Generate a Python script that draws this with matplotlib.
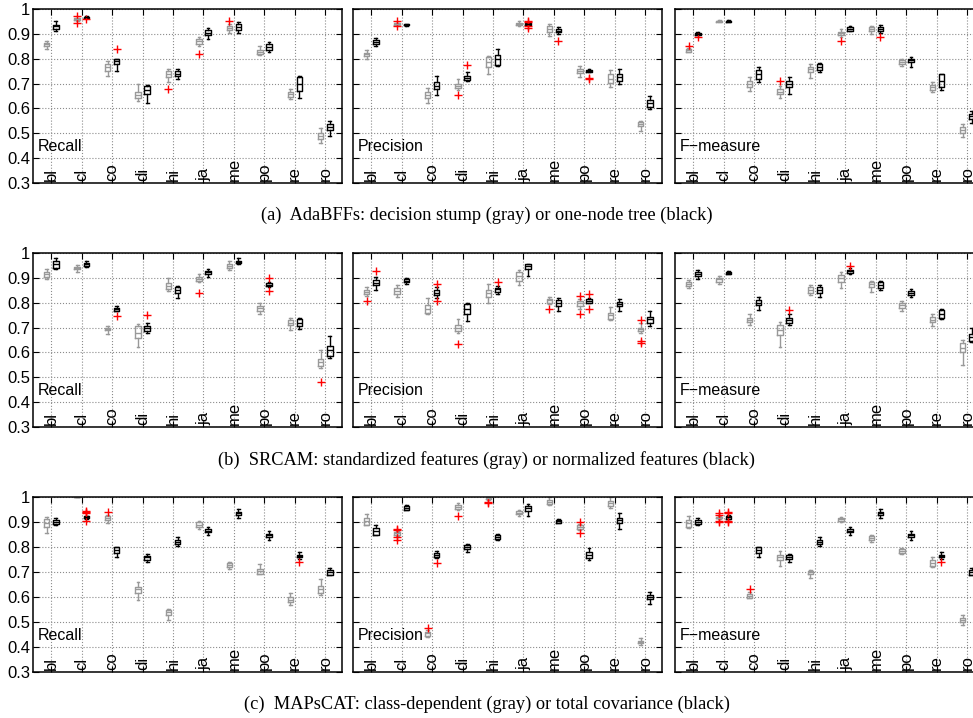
import numpy as np
import matplotlib
matplotlib.use('Agg')
import matplotlib.pyplot as plt

plt.rcParams['font.family'] = ['Liberation Sans', 'DejaVu Sans']

cats = ['bl', 'cl', 'co', 'di', 'hi', 'ja', 'me', 'po', 're', 'ro']
ytick_vals = [0.3, 0.4, 0.5, 0.6, 0.7, 0.8, 0.9, 1.0]
ytick_labels = ['0.3', '0.4', '0.5', '0.6', '0.7', '0.8', '0.9', '1']
measures = ['Recall', 'Precision', 'F\u2212measure']
captions = ['(a)  AdaBFFs: decision stump (gray) or one-node tree (black)',
            '(b)  SRCAM: standardized features (gray) or normalized features (black)',
            '(c)  MAPsCAT: class-dependent (gray) or total covariance (black)']

# each box: (whisker low, q1, median, q3, whisker high); outliers keyed by category index
# (a) AdaBFFs
a_rec_gray = [(0.84, 0.85, 0.86, 0.865, 0.87), (0.952, 0.955, 0.96, 0.962, 0.965),
              (0.73, 0.75, 0.765, 0.778, 0.79), (0.63, 0.64, 0.655, 0.668, 0.70),
              (0.705, 0.728, 0.74, 0.75, 0.76), (0.85, 0.86, 0.87, 0.878, 0.888),
              (0.905, 0.916, 0.922, 0.93, 0.94), (0.815, 0.82, 0.828, 0.837, 0.85),
              (0.638, 0.646, 0.658, 0.668, 0.68), (0.46, 0.476, 0.49, 0.50, 0.52)]
a_rec_gray_out = {1: [0.97, 0.945], 4: [0.68], 5: [0.82], 6: [0.95]}
a_rec_black = [(0.91, 0.92, 0.93, 0.937, 0.95), (0.962, 0.964, 0.966, 0.968, 0.97),
               (0.75, 0.778, 0.79, 0.797, 0.80), (0.62, 0.66, 0.675, 0.69, 0.695),
               (0.718, 0.73, 0.74, 0.75, 0.76), (0.88, 0.897, 0.905, 0.915, 0.922),
               (0.905, 0.917, 0.928, 0.938, 0.948), (0.825, 0.836, 0.848, 0.858, 0.868),
               (0.64, 0.67, 0.70, 0.727, 0.73), (0.49, 0.512, 0.525, 0.538, 0.548)]
a_rec_black_out = {1: [0.958], 2: [0.84]}

a_pre_gray = [(0.80, 0.81, 0.817, 0.824, 0.835), (0.935, 0.937, 0.94, 0.942, 0.945),
              (0.622, 0.64, 0.655, 0.668, 0.682), (0.673, 0.683, 0.69, 0.698, 0.72),
              (0.74, 0.765, 0.785, 0.805, 0.81), (0.93, 0.934, 0.94, 0.945, 0.952),
              (0.892, 0.908, 0.919, 0.93, 0.94), (0.725, 0.741, 0.75, 0.758, 0.77),
              (0.686, 0.703, 0.72, 0.737, 0.755), (0.51, 0.53, 0.538, 0.545, 0.55)]
a_pre_gray_out = {1: [0.952, 0.93], 3: [0.655]}
a_pre_black = [(0.85, 0.858, 0.868, 0.876, 0.885), (0.932, 0.935, 0.937, 0.939, 0.941),
               (0.655, 0.677, 0.692, 0.705, 0.73), (0.71, 0.715, 0.723, 0.732, 0.746),
               (0.77, 0.775, 0.797, 0.815, 0.838), (0.935, 0.937, 0.94, 0.943, 0.946),
               (0.90, 0.906, 0.912, 0.918, 0.928), (0.745, 0.747, 0.75, 0.755, 0.758),
               (0.70, 0.71, 0.727, 0.74, 0.76), (0.597, 0.606, 0.622, 0.635, 0.65)]
a_pre_black_out = {3: [0.773], 5: [0.952, 0.948, 0.93, 0.925], 6: [0.873], 7: [0.722, 0.718]}

a_f_gray = [(0.825, 0.829, 0.835, 0.84, 0.845), (0.946, 0.948, 0.95, 0.952, 0.954),
            (0.67, 0.687, 0.70, 0.71, 0.727), (0.64, 0.658, 0.668, 0.678, 0.69),
            (0.723, 0.746, 0.757, 0.766, 0.78), (0.889, 0.896, 0.903, 0.909, 0.918),
            (0.90, 0.91, 0.92, 0.926, 0.932), (0.77, 0.777, 0.787, 0.795, 0.80),
            (0.665, 0.673, 0.686, 0.696, 0.705), (0.485, 0.50, 0.513, 0.524, 0.538)]
a_f_gray_out = {0: [0.851], 3: [0.71], 5: [0.87]}
a_f_black = [(0.895, 0.897, 0.90, 0.903, 0.906), (0.947, 0.949, 0.951, 0.953, 0.955),
             (0.705, 0.72, 0.737, 0.754, 0.765), (0.66, 0.687, 0.70, 0.71, 0.727),
             (0.745, 0.755, 0.767, 0.777, 0.783), (0.91, 0.912, 0.92, 0.926, 0.93),
             (0.905, 0.91, 0.918, 0.926, 0.935), (0.766, 0.785, 0.793, 0.80, 0.808),
             (0.675, 0.687, 0.712, 0.737, 0.74), (0.54, 0.557, 0.568, 0.578, 0.588)]
a_f_black_out = {0: [0.886], 6: [0.889]}

# (b) SRCAM
b_rec_gray = [(0.897, 0.905, 0.915, 0.925, 0.935), (0.925, 0.937, 0.941, 0.945, 0.95),
              (0.676, 0.69, 0.695, 0.70, 0.705), (0.62, 0.658, 0.678, 0.706, 0.716),
              (0.847, 0.857, 0.868, 0.878, 0.898), (0.884, 0.888, 0.897, 0.905, 0.915),
              (0.932, 0.938, 0.949, 0.956, 0.966), (0.756, 0.767, 0.777, 0.786, 0.797),
              (0.69, 0.71, 0.72, 0.73, 0.74), (0.537, 0.546, 0.561, 0.573, 0.608)]
b_rec_gray_out = {5: [0.84], 9: [0.48]}
b_rec_black = [(0.935, 0.94, 0.956, 0.966, 0.978), (0.945, 0.948, 0.954, 0.96, 0.966),
               (0.765, 0.767, 0.773, 0.778, 0.787), (0.677, 0.686, 0.697, 0.706, 0.717),
               (0.818, 0.838, 0.85, 0.865, 0.868), (0.905, 0.915, 0.922, 0.928, 0.935),
               (0.957, 0.958, 0.963, 0.968, 0.978), (0.865, 0.868, 0.873, 0.878, 0.885),
               (0.695, 0.706, 0.72, 0.735, 0.74), (0.577, 0.587, 0.608, 0.625, 0.668)]
b_rec_black_out = {2: [0.748], 3: [0.75], 7: [0.898, 0.848]}

b_pre_gray = [(0.826, 0.834, 0.843, 0.852, 0.865), (0.825, 0.835, 0.848, 0.86, 0.87),
              (0.753, 0.757, 0.773, 0.789, 0.82), (0.68, 0.686, 0.70, 0.712, 0.735),
              (0.80, 0.824, 0.838, 0.85, 0.874), (0.87, 0.888, 0.908, 0.922, 0.933),
              (0.795, 0.80, 0.809, 0.816, 0.825), (0.775, 0.787, 0.797, 0.807, 0.815),
              (0.732, 0.736, 0.749, 0.76, 0.784), (0.678, 0.686, 0.693, 0.70, 0.72)]
b_pre_gray_out = {0: [0.808], 3: [0.632], 6: [0.773], 7: [0.827, 0.753], 9: [0.732, 0.645, 0.638]}
b_pre_black = [(0.852, 0.87, 0.88, 0.892, 0.902), (0.877, 0.884, 0.889, 0.895, 0.901),
               (0.817, 0.832, 0.84, 0.85, 0.862), (0.727, 0.753, 0.773, 0.793, 0.80),
               (0.834, 0.844, 0.854, 0.861, 0.868), (0.908, 0.935, 0.946, 0.955, 0.956),
               (0.768, 0.785, 0.797, 0.81, 0.82), (0.797, 0.80, 0.807, 0.813, 0.82),
               (0.766, 0.785, 0.794, 0.803, 0.814), (0.705, 0.72, 0.733, 0.743, 0.766)]
b_pre_black_out = {0: [0.927], 2: [0.874, 0.806], 4: [0.884], 7: [0.834, 0.776]}

b_f_gray = [(0.86, 0.868, 0.876, 0.884, 0.892), (0.874, 0.885, 0.895, 0.901, 0.908),
            (0.712, 0.723, 0.732, 0.74, 0.753), (0.622, 0.672, 0.692, 0.712, 0.722),
            (0.83, 0.838, 0.852, 0.864, 0.87), (0.86, 0.884, 0.898, 0.911, 0.924),
            (0.845, 0.865, 0.875, 0.884, 0.888), (0.766, 0.78, 0.789, 0.797, 0.806),
            (0.705, 0.723, 0.732, 0.742, 0.753), (0.55, 0.60, 0.618, 0.638, 0.652)]
b_f_gray_out = {}
b_f_black = [(0.895, 0.906, 0.915, 0.922, 0.932), (0.914, 0.917, 0.921, 0.925, 0.927),
             (0.77, 0.79, 0.80, 0.811, 0.822), (0.71, 0.72, 0.73, 0.74, 0.753),
             (0.824, 0.838, 0.852, 0.864, 0.87), (0.916, 0.92, 0.926, 0.932, 0.938),
             (0.851, 0.861, 0.872, 0.884, 0.888), (0.824, 0.831, 0.838, 0.846, 0.854),
             (0.735, 0.74, 0.755, 0.769, 0.773), (0.64, 0.645, 0.661, 0.676, 0.699)]
b_f_black_out = {3: [0.77], 5: [0.946]}

# (c) MAPsCAT
c_rec_gray = [(0.858, 0.881, 0.897, 0.912, 0.922), (1.0, 1.0, 1.0, 1.0, 1.0),
              (0.898, 0.908, 0.918, 0.924, 0.93), (0.59, 0.618, 0.631, 0.642, 0.66),
              (0.51, 0.53, 0.539, 0.547, 0.553), (0.874, 0.881, 0.89, 0.899, 0.904),
              (0.712, 0.719, 0.728, 0.736, 0.742), (0.692, 0.693, 0.703, 0.712, 0.732),
              (0.57, 0.58, 0.59, 0.601, 0.617), (0.607, 0.618, 0.632, 0.645, 0.672)]
c_rec_gray_out = {2: [0.942]}
c_rec_black = [(0.888, 0.891, 0.901, 0.908, 0.918), (0.914, 0.916, 0.92, 0.924, 0.926),
               (0.76, 0.777, 0.79, 0.80, 0.80), (0.74, 0.75, 0.759, 0.766, 0.773),
               (0.806, 0.811, 0.82, 0.83, 0.84), (0.848, 0.859, 0.865, 0.872, 0.88),
               (0.918, 0.928, 0.935, 0.942, 0.952), (0.828, 0.841, 0.847, 0.854, 0.864),
               (0.753, 0.759, 0.764, 0.769, 0.78), (0.688, 0.69, 0.70, 0.709, 0.718)]
c_rec_black_out = {1: [0.945, 0.94, 0.935, 0.905], 8: [0.74]}

c_pre_gray = [(0.888, 0.889, 0.904, 0.918, 0.931), (0.845, 0.848, 0.855, 0.86, 0.865),
              (0.44, 0.446, 0.455, 0.462, 0.468), (0.948, 0.953, 0.961, 0.969, 0.975),
              (0.99, 0.993, 0.996, 0.998, 1.0), (0.926, 0.932, 0.938, 0.945, 0.95),
              (0.969, 0.973, 0.982, 0.99, 1.0), (0.868, 0.874, 0.88, 0.888, 0.893),
              (0.958, 0.966, 0.975, 0.985, 0.999), (0.408, 0.415, 0.42, 0.426, 0.437)]
c_pre_gray_out = {1: [0.874, 0.868, 0.84, 0.83], 2: [0.478], 3: [0.926], 4: [0.982, 0.978],
                  7: [0.901, 0.857]}
c_pre_black = [(0.847, 0.85, 0.865, 0.877, 0.89), (0.948, 0.95, 0.958, 0.966, 0.967),
               (0.755, 0.759, 0.769, 0.777, 0.783), (0.782, 0.791, 0.80, 0.807, 0.813),
               (0.827, 0.834, 0.84, 0.847, 0.854), (0.926, 0.945, 0.955, 0.965, 0.972),
               (0.895, 0.896, 0.904, 0.91, 0.912), (0.747, 0.756, 0.769, 0.78, 0.797),
               (0.874, 0.895, 0.908, 0.918, 0.938), (0.574, 0.593, 0.60, 0.608, 0.622)]
c_pre_black_out = {2: [0.735]}

c_f_gray = [(0.877, 0.881, 0.897, 0.908, 0.926), (0.912, 0.915, 0.918, 0.921, 0.925),
            (0.595, 0.597, 0.606, 0.613, 0.62), (0.726, 0.75, 0.76, 0.769, 0.786),
            (0.675, 0.692, 0.70, 0.705, 0.71), (0.90, 0.904, 0.911, 0.917, 0.92),
            (0.82, 0.827, 0.836, 0.845, 0.85), (0.773, 0.777, 0.785, 0.793, 0.797),
            (0.719, 0.723, 0.736, 0.749, 0.76), (0.489, 0.499, 0.508, 0.516, 0.53)]
c_f_gray_out = {1: [0.935, 0.93, 0.905, 0.90], 2: [0.634]}
c_f_black = [(0.89, 0.891, 0.90, 0.91, 0.918), (0.912, 0.914, 0.919, 0.924, 0.928),
             (0.76, 0.777, 0.789, 0.80, 0.80), (0.74, 0.753, 0.761, 0.769, 0.773),
             (0.806, 0.811, 0.82, 0.83, 0.84), (0.848, 0.859, 0.865, 0.872, 0.88),
             (0.918, 0.928, 0.935, 0.942, 0.952), (0.828, 0.841, 0.847, 0.854, 0.864),
             (0.753, 0.759, 0.764, 0.769, 0.78), (0.688, 0.69, 0.70, 0.709, 0.718)]
c_f_black_out = {1: [0.94, 0.935, 0.905, 0.90], 8: [0.74]}

panels = [
    [(a_rec_gray, a_rec_gray_out, a_rec_black, a_rec_black_out),
     (a_pre_gray, a_pre_gray_out, a_pre_black, a_pre_black_out),
     (a_f_gray, a_f_gray_out, a_f_black, a_f_black_out)],
    [(b_rec_gray, b_rec_gray_out, b_rec_black, b_rec_black_out),
     (b_pre_gray, b_pre_gray_out, b_pre_black, b_pre_black_out),
     (b_f_gray, b_f_gray_out, b_f_black, b_f_black_out)],
    [(c_rec_gray, c_rec_gray_out, c_rec_black, c_rec_black_out),
     (c_pre_gray, c_pre_gray_out, c_pre_black, c_pre_black_out),
     (c_f_gray, c_f_gray_out, c_f_black, c_f_black_out)],
]


def box_stats(vals, outs):
    res = []
    for i, (lo, q1, med, q3, hi) in enumerate(vals):
        res.append(dict(whislo=lo, q1=q1, med=med, q3=q3, whishi=hi,
                        fliers=outs.get(i, [])))
    return res


fig = plt.figure(figsize=(9.73, 7.18), dpi=100)

W, H = 973.0, 718.0
col_left = [33, 353, 675]
row_top = [9, 253, 497]
row_h = [174, 174, 175]
cap_y = [215, 460, 704]

pos = np.arange(1, 11)

for r in range(3):
    for c in range(3):
        ax = fig.add_axes([col_left[c] / W, 1 - (row_top[r] + row_h[r]) / H,
                           309 / W, row_h[r] / H])
        gray, gray_out, black, black_out = panels[r][c]
        for vals, outs, col, off in [(gray, gray_out, '0.6', -0.15),
                                     (black, black_out, 'k', 0.15)]:
            lp = dict(color=col, linewidth=1.0)
            ax.bxp(box_stats(vals, outs), positions=pos + off, widths=0.18,
                   capwidths=0.09, boxprops=lp, medianprops=lp,
                   whiskerprops=lp, capprops=lp,
                   flierprops=dict(marker='+', markeredgecolor='red',
                                   markersize=6, markeredgewidth=1.0,
                                   linestyle='none'),
                   manage_ticks=False)
        ax.set_xlim(0.4, 10.55)
        ax.set_ylim(0.3, 1.0)
        ax.set_axisbelow(True)
        ax.grid(True, linestyle=':', color='0.55', linewidth=0.8)
        ax.set_xticks(pos)
        ax.set_xticklabels(cats, rotation=90, fontsize=12)
        for lab in ax.get_xticklabels():
            lab.set_va('bottom')
        ax.set_yticks(ytick_vals)
        if c == 0:
            ax.set_yticklabels(ytick_labels, fontsize=12)
        else:
            ax.set_yticklabels([])
        ax.tick_params(axis='both', direction='in', length=4, width=0.8,
                       top=True, right=True)
        ax.tick_params(axis='x', pad=-1.5)
        ax.tick_params(axis='y', pad=2)
        for sp in ax.spines.values():
            sp.set_linewidth(1.1)
        ax.text(0.016, 0.21, measures[c], transform=ax.transAxes,
                fontsize=11.5, ha='left', va='center')
    fig.text(0.5, 1 - cap_y[r] / H, captions[r], ha='center', va='center',
             family='Liberation Serif', fontsize=13.2)

fig.savefig('out.png', dpi=100)
